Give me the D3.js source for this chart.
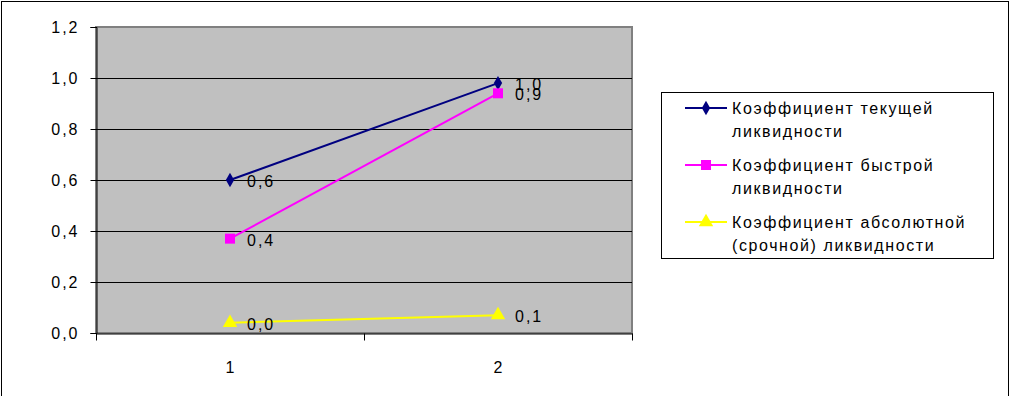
<!DOCTYPE html>
<html>
<head>
<meta charset="utf-8">
<script src="https://cdn.jsdelivr.net/npm/d3@7"></script>
<style>
  body { margin: 0; background: #fff; }
  text { font-family: "Liberation Sans", Arial, sans-serif; }
</style>
</head>
<body>
<div id="chart"></div>
<script>
"use strict";

/* data */
var categories = ["1", "2"];
var seriesNames = [
  ["Коэффициент текущей", "ликвидности"],
  ["Коэффициент быстрой", "ликвидности"],
  ["Коэффициент абсолютной", "(срочной) ликвидности"]
];
var currentRatio = [0.60, 0.98];
var quickRatio = [0.37, 0.94];
var absoluteRatio = [0.04, 0.07];
var valueLabels = [["0,6", "1,0"], ["0,4", "0,9"], ["0,0", "0,1"]];
var yTicks = [0, 0.2, 0.4, 0.6, 0.8, 1.0, 1.2];

var allSeries = [currentRatio, quickRatio, absoluteRatio];
var colors = ["#000080", "#FF00FF", "#FFFF00"];
var shapes = [d3.symbolDiamond, d3.symbolSquare, d3.symbolTriangle];
var sizes = [60, 100, 90];

var W = 1011, H = 396;
var plot = { left: 96, top: 27, right: 632, bottom: 333 };

var svg = d3.select("#chart").append("svg")
    .attr("width", W)
    .attr("height", H);

/* outer frame */
svg.append("rect")
    .attr("x", 1.5).attr("y", 1.5)
    .attr("width", 1007).attr("height", 410)
    .attr("fill", "none")
    .attr("stroke", "#000");

var x = d3.scaleBand()
    .domain(categories)
    .range([plot.left, plot.right]);

var y = d3.scaleLinear()
    .domain([0, 1.2])
    .range([plot.bottom, plot.top]);

/* plot area */
svg.append("rect")
    .attr("x", plot.left).attr("y", plot.top)
    .attr("width", plot.right - plot.left)
    .attr("height", plot.bottom - plot.top)
    .attr("fill", "#C0C0C0")
    .attr("stroke", "#808080")
    .attr("stroke-width", 2);

/* gridlines */
svg.append("g").selectAll("line")
    .data(yTicks.filter(function (d) { return d > 0 && d < 1.2; }))
    .enter().append("line")
    .attr("x1", plot.left).attr("x2", plot.right)
    .attr("y1", function (d) { return Math.round(y(d)) + 0.5; })
    .attr("y2", function (d) { return Math.round(y(d)) + 0.5; })
    .attr("stroke", "#000");

/* y axis */
var yAxis = svg.append("g")
    .attr("transform", "translate(" + (plot.left + 0.5) + ",0)")
    .call(d3.axisLeft(y).tickValues(yTicks).tickSize(6).tickPadding(11)
      .tickFormat(function (d) { return d3.format(".1f")(d).replace(".", ","); }));
yAxis.selectAll("text")
    .style("font-size", "16px")
    .style("letter-spacing", "2px")
    .attr("fill", "#000");
yAxis.selectAll("line, path").attr("stroke", "#000");

/* x axis */
var xAxis = svg.append("g")
    .attr("transform", "translate(0," + (plot.bottom + 0.5) + ")")
    .call(d3.axisBottom(x).tickSize(0).tickPadding(28));
xAxis.selectAll("text").style("font-size", "16px").attr("fill", "#000");
xAxis.select("path").attr("stroke", "#000");
xAxis.append("g").selectAll("line")
    .data([plot.left, (plot.left + plot.right) / 2, plot.right])
    .enter().append("line")
    .attr("x1", function (d) { return Math.round(d) + 0.5; })
    .attr("x2", function (d) { return Math.round(d) + 0.5; })
    .attr("y1", 0).attr("y2", 7)
    .attr("stroke", "#000");

var cx = function (i) { return x(categories[i]) + x.bandwidth() / 2; };

/* lines, markers, labels */
allSeries.forEach(function (vals, s) {
  var g = svg.append("g");
  g.append("path")
      .datum(vals)
      .attr("fill", "none")
      .attr("stroke", colors[s])
      .attr("stroke-width", 2)
      .attr("d", d3.line()
        .x(function (d, i) { return cx(i); })
        .y(function (d) { return y(d); }));
  g.selectAll("path.pt")
      .data(vals)
      .enter().append("path")
      .attr("class", "pt")
      .attr("transform", function (d, i) { return "translate(" + cx(i) + "," + y(d) + ")"; })
      .attr("d", d3.symbol().type(shapes[s]).size(sizes[s]))
      .attr("fill", colors[s]);
  g.selectAll("text")
      .data(vals)
      .enter().append("text")
      .attr("x", function (d, i) { return cx(i) + 17; })
      .attr("y", function (d) { return y(d) + 7; })
      .style("font-size", "16px")
      .style("letter-spacing", "2px")
      .attr("fill", "#000")
      .text(function (d, i) { return valueLabels[s][i]; });
});

/* legend */
var legend = svg.append("g");
legend.append("rect")
    .attr("x", 661.5).attr("y", 92.5)
    .attr("width", 332).attr("height", 166)
    .attr("fill", "#fff")
    .attr("stroke", "#000");

var rowY = [108, 165, 222];
seriesNames.forEach(function (name, s) {
  var ly = rowY[s];
  legend.append("line")
      .attr("x1", 685).attr("x2", 727)
      .attr("y1", ly).attr("y2", ly)
      .attr("stroke", colors[s])
      .attr("stroke-width", 2);
  legend.append("path")
      .attr("transform", "translate(706," + ly + ")")
      .attr("d", d3.symbol().type(shapes[s]).size(sizes[s]))
      .attr("fill", colors[s]);
  legend.append("text")
      .attr("x", 732).attr("y", ly + 5.5)
      .style("font-size", "16px")
      .style("letter-spacing", "1.6px")
      .attr("fill", "#000")
      .selectAll("tspan")
      .data(name)
      .enter().append("tspan")
      .attr("x", 732)
      .attr("dy", function (d, i) { return i === 0 ? 0 : 23; })
      .text(function (d) { return d; });
});
</script>
</body>
</html>
